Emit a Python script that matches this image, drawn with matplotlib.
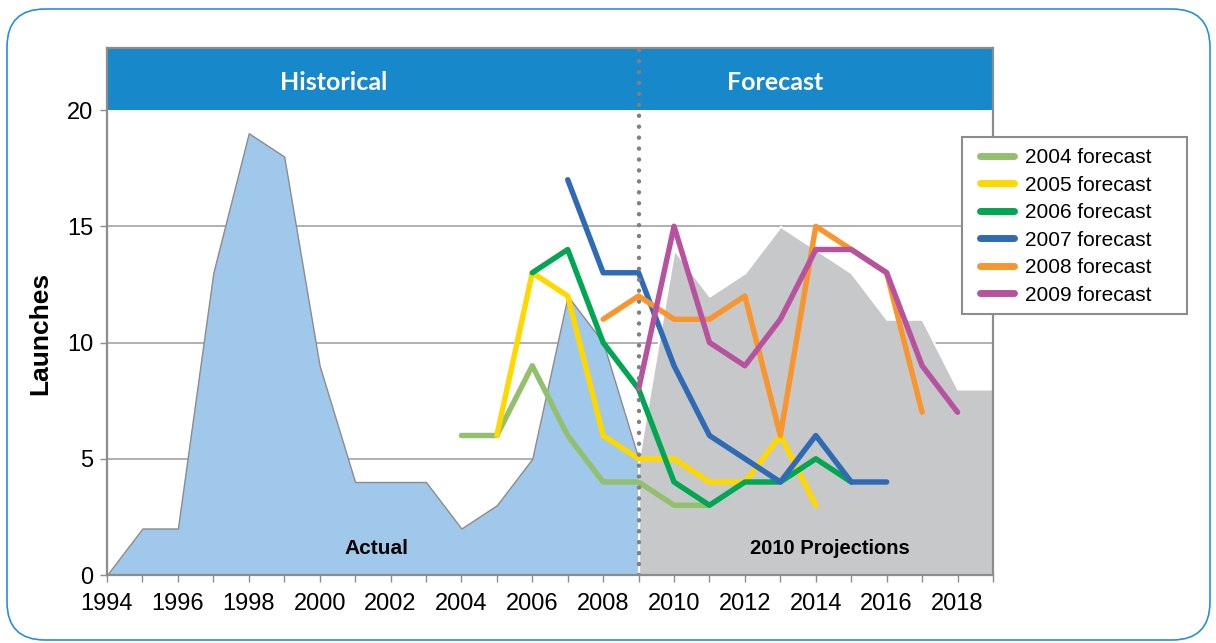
import numpy as np
import matplotlib
matplotlib.use("Agg")
import matplotlib.pyplot as plt
from matplotlib.patches import Rectangle, FancyBboxPatch

plt.rcParams['font.family'] = ['Liberation Sans', 'DejaVu Sans']

# actual launches and the 2010 projection
actual_years = list(range(1994, 2010))
actual_vals = [0, 2, 2, 13, 19, 18, 9, 4, 4, 4, 2, 3, 5, 12, 10, 5]
proj_years = list(range(2009, 2020))
proj_vals = [5, 14, 12, 13, 15, 14, 13, 11, 11, 8, 8]

# earlier forecasts
forecast_labels = ['2004 forecast', '2005 forecast', '2006 forecast',
                   '2007 forecast', '2008 forecast', '2009 forecast']
forecast_years = [
    list(range(2004, 2012)),
    list(range(2005, 2015)),
    list(range(2006, 2016)),
    list(range(2007, 2017)),
    list(range(2008, 2018)),
    list(range(2009, 2019)),
]
forecast_vals = [
    [6, 6, 9, 6, 4, 4, 3, 3],
    [6, 13, 12, 6, 5, 5, 4, 4, 6, 3],
    [13, 14, 10, 8, 4, 3, 4, 4, 5, 4],
    [17, 13, 13, 9, 6, 5, 4, 6, 4, 4],
    [11, 12, 11, 11, 12, 6, 15, 14, 13, 7],
    [8, 15, 10, 9, 11, 14, 14, 13, 9, 7],
]
forecast_colors = ['#93c06e', '#ffd800', '#00a651', '#2f6bb4', '#f7962e', '#b7529f']

xtick_years = list(range(1994, 2020))
ytick_vals = [0, 5, 10, 15, 20]

W, H = 1216, 643
fig = plt.figure(figsize=(W / 100, H / 100), dpi=100)

# rounded outer border
border = FancyBboxPatch((0.07, 0.03), 12.03, 6.31,
                        boxstyle='round,pad=0,rounding_size=0.38',
                        transform=fig.dpi_scale_trans, facecolor='none',
                        edgecolor='#2a8fd3', linewidth=1.2)
fig.patches.append(border)

ax = fig.add_axes([107 / W, 1 - 575 / H, (993 - 107) / W, (575 - 48) / H])
ax.set_xlim(1994, 2019)
ax.set_ylim(0, 22.667)

for yv in [5, 10, 15]:
    ax.axhline(yv, color='#a3a3a3', linewidth=1.2, zorder=1)

ax.fill_between(actual_years, actual_vals, 0, facecolor='#9fc8ea',
                edgecolor='#8c8c8c', linewidth=1, zorder=2)
ax.fill_between(proj_years, proj_vals, 0, facecolor='#c7c8ca',
                edgecolor='white', linewidth=1.5, zorder=2)

for yrs, vals, col, lab in zip(forecast_years, forecast_vals, forecast_colors, forecast_labels):
    ax.plot(yrs, vals, color=col, linewidth=3.9, solid_capstyle='round',
            label=lab, zorder=3)

# header banner
ax.add_patch(Rectangle((1994, 20), 25, 2.667, facecolor='#1788c9',
                       edgecolor='none', zorder=5))
ax.text(2000.4, 21.2, 'Historical', color='white', fontsize=18, fontweight='bold',
        family=['Lato', 'DejaVu Sans'], ha='center', va='center', zorder=6)
ax.text(2012.85, 21.2, 'Forecast', color='white', fontsize=18, fontweight='bold',
        family=['Lato', 'DejaVu Sans'], ha='center', va='center', zorder=6)

ax.axvline(2009, color='#808080', linewidth=3.2, linestyle=(0, (0.01, 2.45)),
           dash_capstyle='round', zorder=7)

ax.text(2001.6, 1.15, 'Actual', fontsize=15, fontweight='bold',
        ha='center', va='center', zorder=4)
ax.text(2014.4, 1.15, '2010 Projections', fontsize=14.5, fontweight='bold',
        ha='center', va='center', zorder=4)

ax.set_yticks(ytick_vals)
ax.set_xticks(xtick_years)
ax.set_xticklabels([str(y) if y % 2 == 0 else '' for y in xtick_years])
ax.tick_params(axis='both', direction='out', length=5, width=1, color='#8c8c8c',
               labelsize=17)
ax.tick_params(axis='x', pad=8)
ax.tick_params(axis='y', pad=5)
for sp in ax.spines.values():
    sp.set_color('#8c8c8c')
    sp.set_linewidth(1.6)
    sp.set_zorder(8)

fig.text(40 / W, 1 - 333 / H, 'Launches', rotation=90, fontsize=19,
         fontweight='bold', ha='center', va='center')

# legend frame drawn by hand so its padding matches
fig.patches.append(Rectangle((962 / W, 1 - 314 / H), (1187 - 962) / W, (314 - 137) / H,
                             transform=fig.transFigure, facecolor='white',
                             edgecolor='#8c8c8c', linewidth=1.5, zorder=9))
leg = fig.legend(loc='upper left', bbox_to_anchor=(980 / W, 1 - 148 / H),
                 fontsize=15, frameon=False,
                 handlelength=1.65, handletextpad=0.5, labelspacing=0.41,
                 borderpad=0, borderaxespad=0)
leg.set_zorder(10)
for line in leg.get_lines():
    line.set_linewidth(5)
    line.set_solid_capstyle('round')

fig.savefig('out.png', dpi=100)
